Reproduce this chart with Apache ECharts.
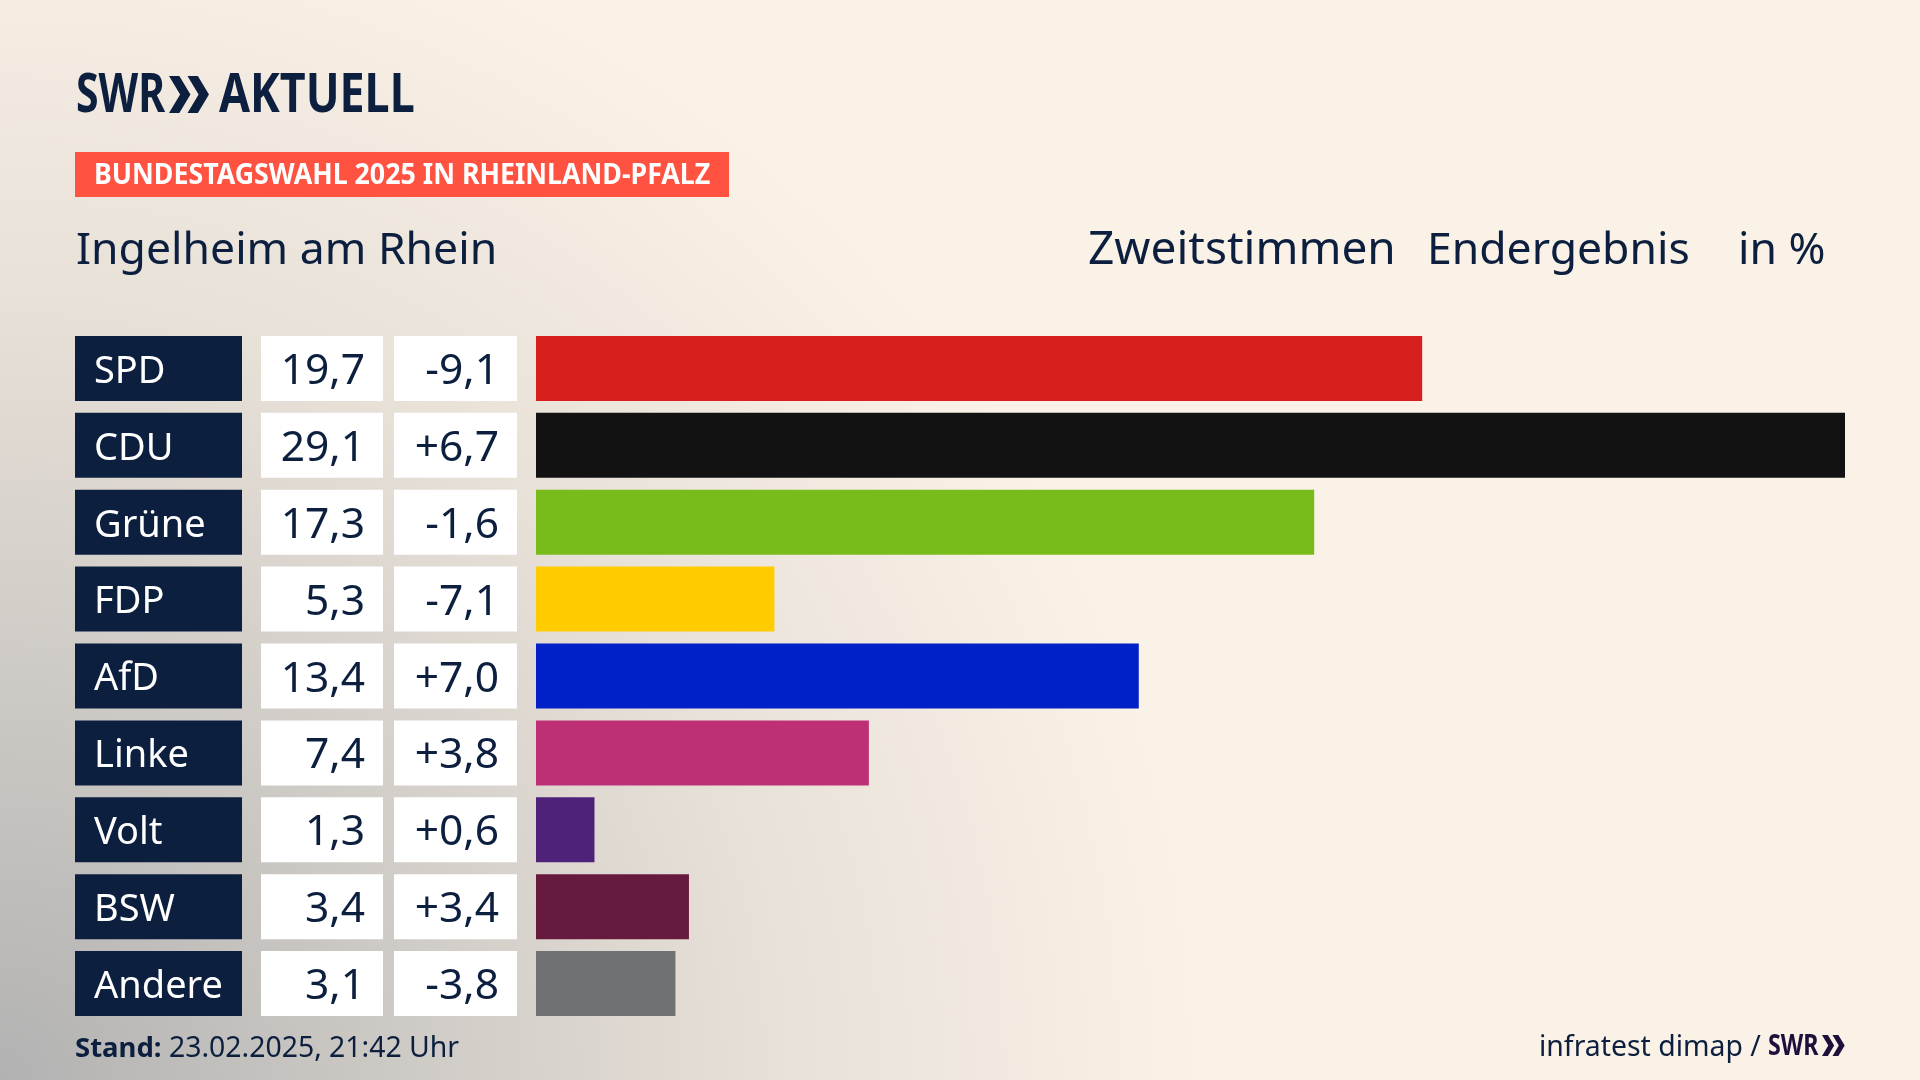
<!DOCTYPE html>
<html>
<head>
<meta charset="utf-8">
<title>Ingelheim am Rhein</title>
<style>
html,body{margin:0;padding:0;background:#fbf2e7;}
#main{width:1920px;height:1080px;}
</style>
<script src="https://cdn.jsdelivr.net/npm/echarts@6/dist/echarts.min.js"></script>
</head>
<body>
<div id="main"></div>
<script>
var parties = ['SPD', 'CDU', 'Grüne', 'FDP', 'AfD', 'Linke', 'Volt', 'BSW', 'Andere'];
var results = [19.7, 29.1, 17.3, 5.3, 13.4, 7.4, 1.3, 3.4, 3.1];
var changes = [-9.1, 6.7, -1.6, -7.1, 7.0, 3.8, 0.6, 3.4, -3.8];
var barColors = ['#d71f1d', '#121212', '#78bc1b', '#ffcc00', '#0021c8', '#bd3075', '#4f2279', '#661a3e', '#707173'];

var navy = '#0c1f3f';
var font = '"Noto Sans"';

function comma(v) {
    return v.toFixed(1).replace('.', ',');
}
var resultLabels = results.map(comma);
var changeLabels = changes.map(function (v) {
    return (v > 0 ? '+' : '') + comma(v);
});

// kleine Helfer fuer Text im Kopf und Fuss
function txt(x, y, text, size, weight, color, sx) {
    return {
        type: 'text', x: x, y: y, scaleX: sx || 1, silent: true,
        style: {
            text: text, fontFamily: font, fontSize: size, fontWeight: weight || 'normal',
            fill: color || navy, align: 'left', verticalAlign: 'middle'
        }
    };
}
function chevrons(x, y, h, color) {
    var w = h * 0.3, gap = h * 0.5, t = h * 0.28, list = [];
    for (var i = 0; i < 2; i++) {
        var l = x + i * gap;
        list.push({
            type: 'polygon', silent: true,
            shape: { points: [[l, y], [l + t, y], [l + t + w, y + h / 2], [l + t, y + h], [l, y + h], [l + w, y + h / 2]] },
            style: { fill: color }
        });
    }
    return list;
}

// Tabellenspalten als Achsenbeschriftung, rich nur wegen der Textlage in der Box
function sideAxis(labels, margin, align, width, padding, bg, color, size) {
    return {
        type: 'category', data: labels, inverse: true, position: 'left',
        axisLine: { show: false }, axisTick: { show: false }, splitLine: { show: false },
        axisLabel: {
            margin: margin, align: align, width: width, height: 65,
            padding: padding, backgroundColor: bg, overflow: 'none', interval: 0,
            formatter: function (v) {
                return '{t|' + v + '}';
            },
            rich: {
                t: { lineHeight: 65, height: 58, verticalAlign: 'bottom', color: color, fontFamily: font, fontSize: size }
            }
        }
    };
}

var graphics = [
    txt(76, 97, 'SWR', 54, 'bold', navy, 0.76),
    txt(219, 97, 'AKTUELL', 54, 'bold', navy, 0.83),
    { type: 'rect', silent: true, shape: { x: 75, y: 152, width: 654, height: 45 }, style: { fill: '#ff5240' } },
    txt(94, 176, 'BUNDESTAGSWAHL 2025 IN RHEINLAND-PFALZ', 28, 'bold', '#fff', 0.956),
    txt(76, 251, 'Ingelheim am Rhein', 44.5),
    txt(1088, 251, 'Zweitstimmen', 46),
    txt(1427, 251, 'Endergebnis', 44.5),
    txt(1738, 251, 'in %', 44.5),
    txt(75, 1049, 'Stand:', 27.5, 'bold'),
    txt(169, 1049, '23.02.2025, 21:42 Uhr', 28.4),
    txt(1539, 1048, 'infratest dimap /', 28.4),
    txt(1768, 1047, 'SWR', 28, 'bold', '#1e0f3c', 0.83)
].concat(chevrons(169, 76, 37, navy), chevrons(1822, 1035, 21, '#1e0f3c'));

var myChart = echarts.init(document.getElementById('main'));
var option = {
    animation: false,
    backgroundColor: {
        type: 'radial', x: 0, y: 1, r: 1.12,
        colorStops: [
            { offset: 0, color: '#b2b2b2' },
            { offset: 0.35, color: '#cfcbc6' },
            { offset: 0.65, color: '#e8e1d8' },
            { offset: 1, color: '#fbf2e7' }
        ]
    },
    grid: { left: 536, right: 75, top: 330, bottom: 58, containLabel: false },
    xAxis: { type: 'value', min: 0, max: 29.1, show: false },
    yAxis: [
        sideAxis(parties, 461, 'left', 130, [0, 18, 0, 19], navy, '#fff', 38),
        sideAxis(resultLabels, 153, 'right', 104, [0, 18, 0, 0], '#fff', navy, 42.5),
        sideAxis(changeLabels, 19, 'right', 105, [0, 18, 0, 0], '#fff', navy, 42.5)
    ],
    series: [{
        type: 'bar', yAxisIndex: 0, barWidth: 65,
        data: results.map(function (v, i) {
            return { value: v, itemStyle: { color: barColors[i] } };
        })
    }],
    graphic: graphics
};
option && myChart.setOption(option);
</script>
</body>
</html>
